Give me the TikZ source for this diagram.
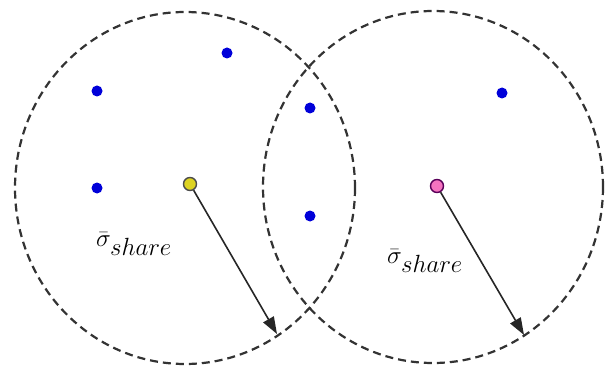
\documentclass[tikz,border=0pt]{standalone}
\usetikzlibrary{arrows.meta}
\begin{document}
\begin{tikzpicture}[x=1pt,y=-1pt,
  zone/.style={draw=black!80,line width=2.2pt,dash pattern=on 8pt off 5pt},
  pt/.style={circle,fill=blue!85!black,inner sep=0pt,minimum size=11pt},
  centre/.style={circle,draw=black!70,line width=1.4pt,inner sep=0pt,minimum size=13pt},
  radius arrow/.style={draw=black!85,line width=1.6pt,-{Triangle[length=17pt,width=12pt]}},
  lbl/.style={font=\fontsize{25}{30}\selectfont}]
\useasboundingbox (0,0) rectangle (606,369);
\coordinate (c1) at (185,188);
\coordinate (c2) at (433,187);
\draw[zone] (c1) ellipse [x radius=170, y radius=176];
\draw[zone] (c2) ellipse [x radius=170, y radius=176];
\node[pt] (p1) at (227,53) {};
\node[pt] (p2) at (97,91) {};
\node[pt] (p3) at (97,188) {};
\node[pt] (p4) at (310,108) {};
\node[pt] (p5) at (310,216) {};
\node[pt] (p6) at (502,93) {};
\coordinate (t1) at (277,334);
\coordinate (t2) at (524,335);
\node[centre,fill=yellow!85!black] (y) at (190,184) {};
\node[centre,fill=magenta!55,draw=violet!70!black] (m) at (437,186) {};
\draw[radius arrow] (y) -- (t1);
\draw[radius arrow] (m) -- (t2);
\node[lbl] (l1) at (134,244) {$\bar\sigma_{\textstyle share}$};
\node[lbl] (l2) at (425,261) {$\bar\sigma_{\textstyle share}$};
\end{tikzpicture}
\end{document}
